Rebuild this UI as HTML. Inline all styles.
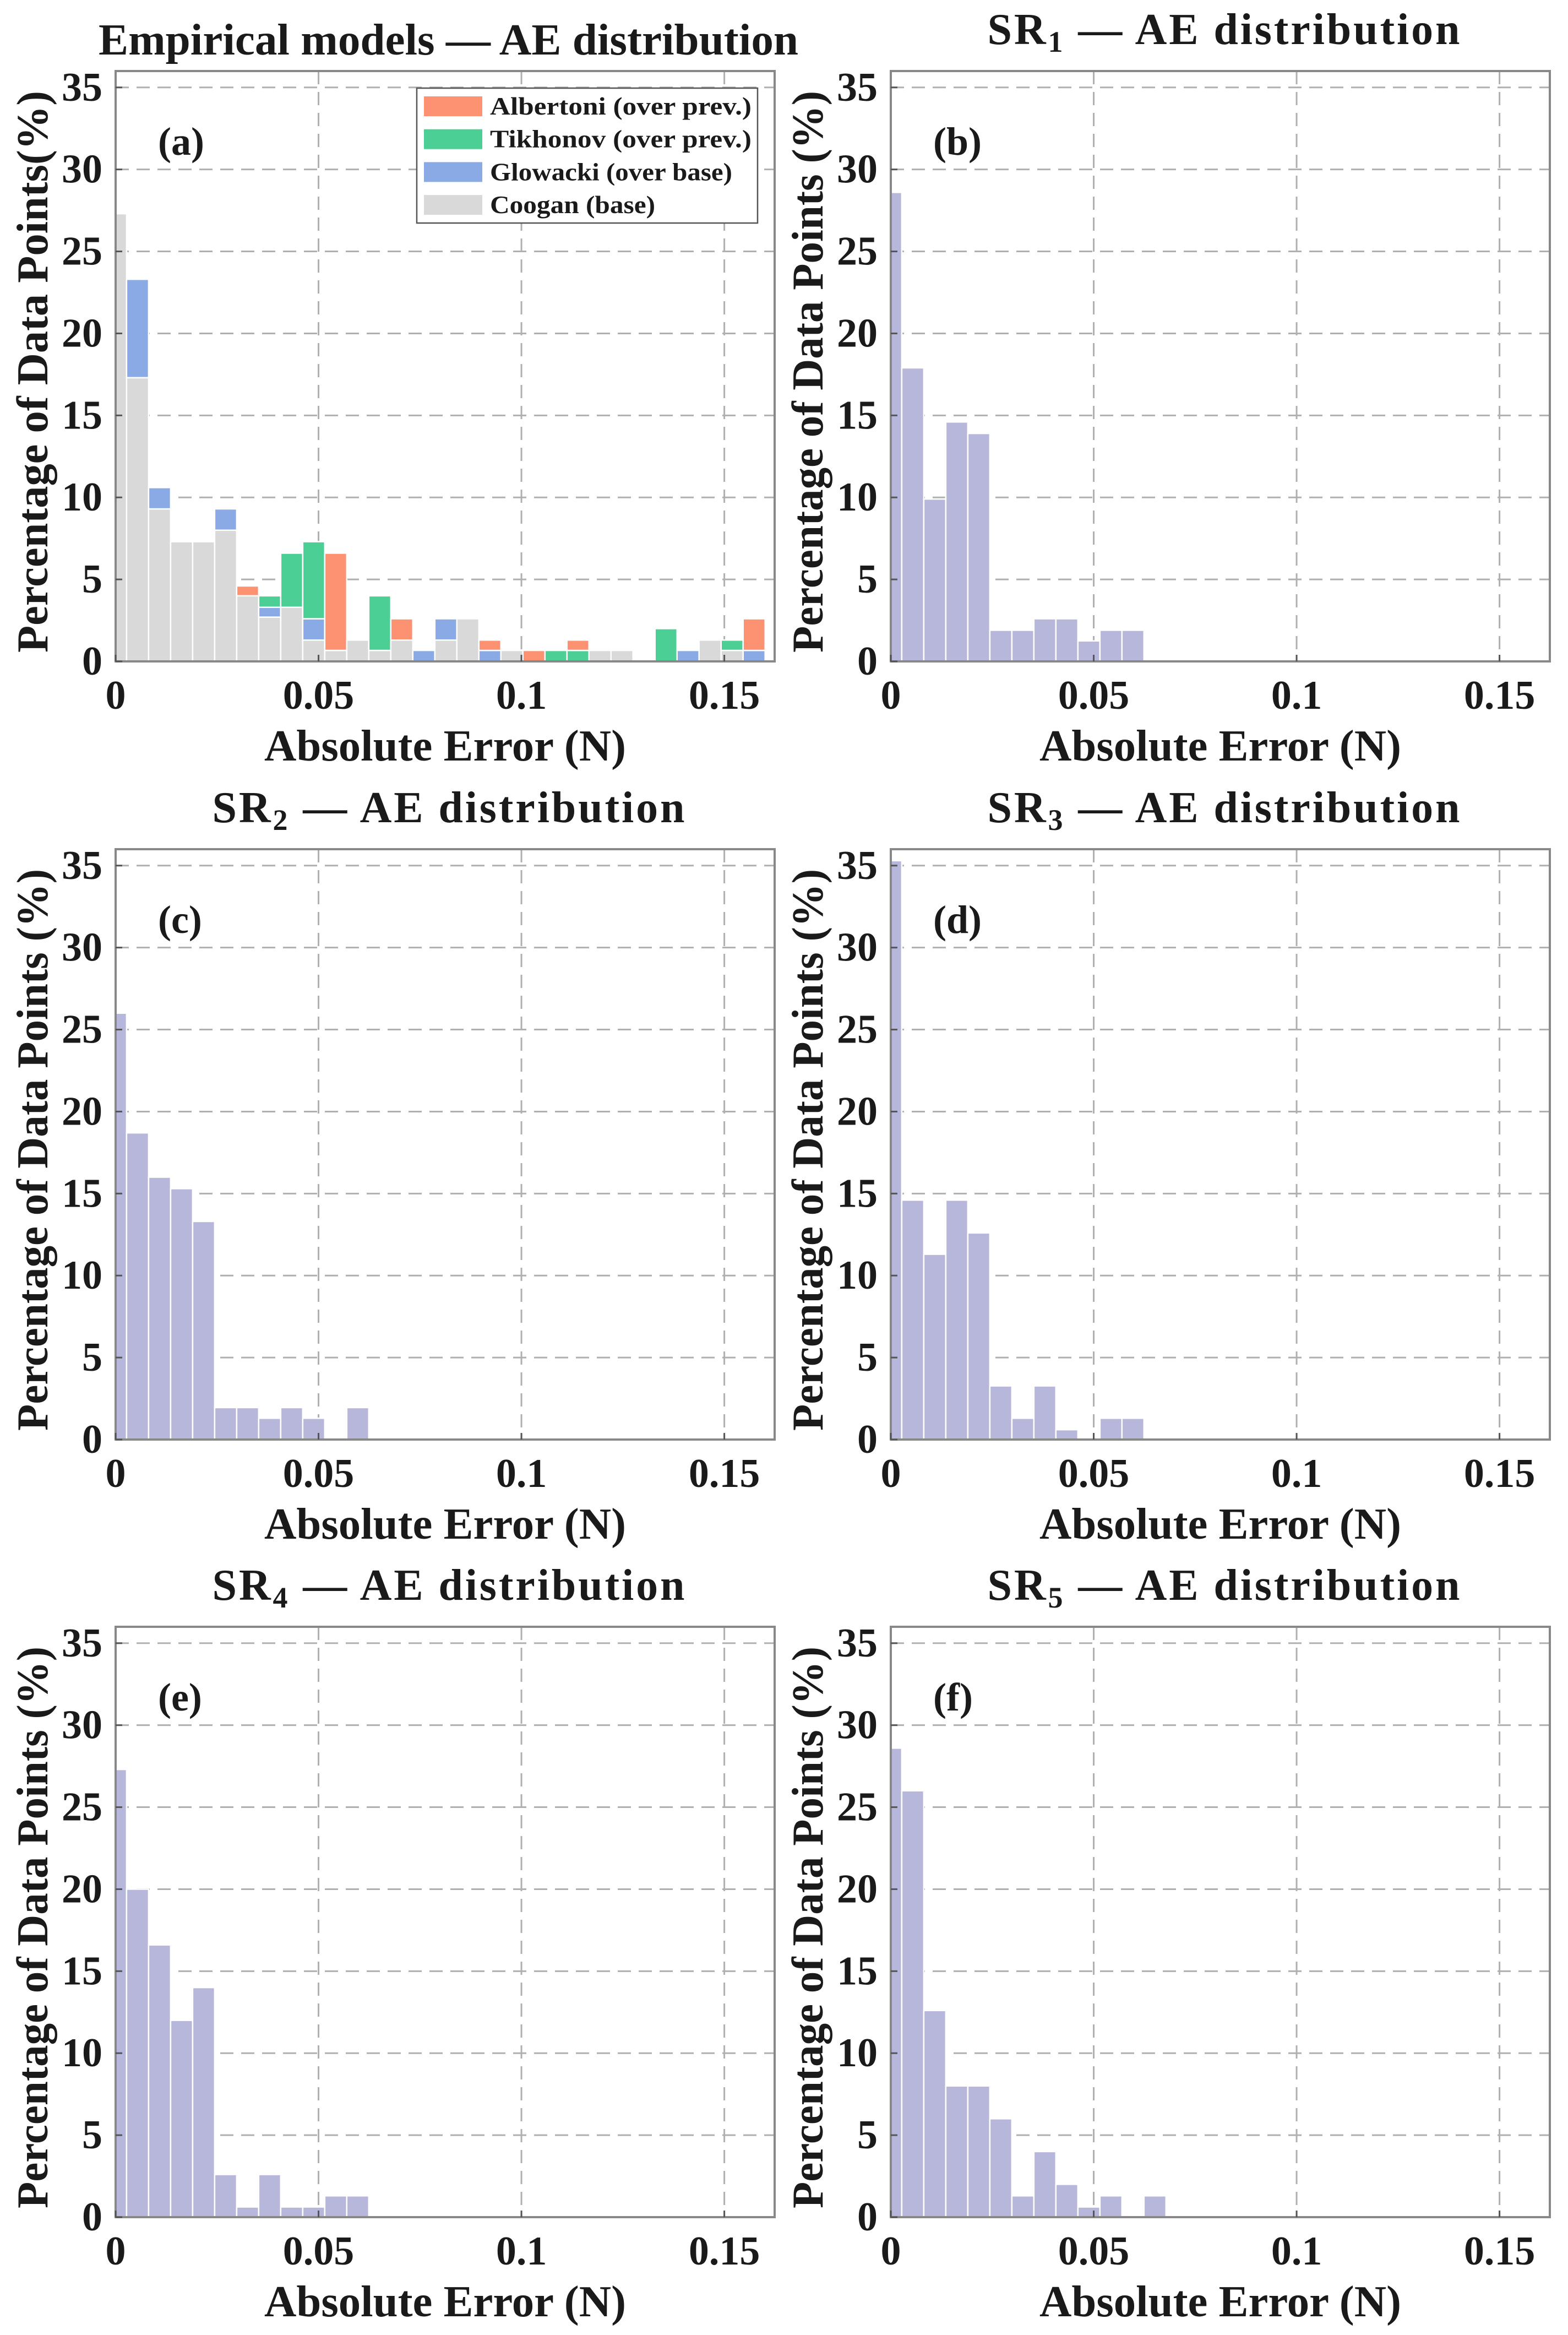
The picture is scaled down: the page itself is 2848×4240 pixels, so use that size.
<!DOCTYPE html>
<html><head><meta charset="utf-8"><style>
html,body{margin:0;padding:0;background:#fff;}
svg{display:block;font-family:"Liberation Serif","Times New Roman",serif;font-weight:bold;}
</style></head><body>
<svg id="fig" xmlns="http://www.w3.org/2000/svg" width="2848" height="4240" viewBox="0 0 2848 4240"></svg>
<script>
// ---- data ----
const binStart = 0.0027;      // first bin edge after 0
const binWidth = 0.005426;    // bin width (N)
const xTicks = [0, 0.05, 0.1, 0.15];
const xTickLabels = ["0", "0.05", "0.1", "0.15"];
const yTicks = [0, 5, 10, 15, 20, 25, 30, 35];
const yTickLabels = ["0", "5", "10", "15", "20", "25", "30", "35"];
const xMax = 0.1624, yMax = 36;

// panel (a) stacked segments (percent), per bin
const cooganBase = [27.3,17.3,9.3,7.3,7.3,8.0,4.0,2.7,3.3,1.3,0.67,1.3,0.67,1.3,0,1.3,2.6,0,0.67,0,0,0,0.67,0.67,0,0,0,1.3,0.67,0];
const glowackiAdd = [0,6.0,1.3,0,0,1.3,0,0.6,0,1.3,0,0,0,0,0.67,1.3,0,0.67,0,0,0,0,0,0,0,0,0.67,0,0,0.67];
const tikhonovAdd = [0,0,0,0,0,0,0,0.7,3.3,4.7,0,0,3.33,0,0,0,0,0,0,0,0.67,0.67,0,0,0,2.0,0,0,0.63,0];
const albertoniAdd = [0,0,0,0,0,0,0.6,0,0,0,5.93,0,0,1.3,0,0,0,0.63,0,0.67,0,0.63,0,0,0,0,0,0,0,1.93];

const sr1 = [28.6,17.9,9.9,14.6,13.9,1.9,1.9,2.6,2.6,1.25,1.9,1.9];
const sr2 = [26.0,18.7,16.0,15.3,13.3,1.95,1.95,1.3,1.95,1.3,0,1.95];
const sr3 = [35.3,14.6,11.3,14.6,12.6,3.27,1.3,3.27,0.6,0,1.3,1.3];
const sr4 = [27.3,20.0,16.6,12.0,14.0,2.6,0.62,2.6,0.62,0.62,1.3,1.3];
const sr5 = [28.6,26.0,12.6,8.0,8.0,6.0,1.3,4.0,2.0,0.62,1.3,0,1.3];

const legendLabels = ["Albertoni (over prev.)","Tikhonov (over prev.)","Glowacki (over base)","Coogan (base)"];
const legendWidths = [475,475,440,300];
const panelLetters = ["(a)","(b)","(c)","(d)","(e)","(f)"];

// ---- layout ----
const NS = "http://www.w3.org/2000/svg";
const svg = document.getElementById("fig");
const colX = [210, 1618], rowB = [1201, 2614, 4026];
const W = 1197, H = 1072;
const C = {coogan:"#d9d9d9", glow:"#8aaae5", tik:"#4ccf94", alb:"#fc9272", sr:"#b7b7db"};

function mk(tag, attrs, parent){ const e=document.createElementNS(NS,tag); for(const k in attrs) e.setAttribute(k,attrs[k]); (parent||svg).appendChild(e); return e; }
function binL(i){ return i===0?0:binStart+(i-1)*binWidth; }
function binR(i){ return binStart+i*binWidth; }

function panel(idx, col, row){
  const x0=colX[col], yb=rowB[row], yt=yb-H;
  const sx=v=>x0+v/xMax*W, sy=v=>yb-v/yMax*H;
  const g=mk("g",{});
  
  
  yTicks.forEach(t=>{ if(t===0) return;
    const l=mk("line",{x1:x0,x2:x0+W,y1:sy(t),y2:sy(t),stroke:"#b0b0b0","stroke-width":3,"stroke-dasharray":"24,14"},g);
     
  });
  xTicks.forEach(t=>{ if(t===0) return;
    const l=mk("line",{x1:sx(t),x2:sx(t),y1:yt,y2:yb,stroke:"#b0b0b0","stroke-width":3,"stroke-dasharray":"24,14"},g);
     
  });
  return {g,x0,yb,yt,sx,sy};
}
function bar(p, i, v0, v1, fill, name){
  if(v1-v0<=0) return;
  const r=mk("rect",{x:p.sx(binL(i)),y:p.sy(v1),width:p.sx(binR(i))-p.sx(binL(i)),height:p.sy(v0)-p.sy(v1),fill:fill,stroke:"#ffffff","stroke-width":2.5},p.g);
   
}
function frame(p, idx, titleParts, ylab){
  const g=p.g;
  const f=mk("rect",{x:p.x0,y:p.yt,width:W,height:H,fill:"none",stroke:"#888","stroke-width":4},g);
   
  yTicks.forEach((t,k)=>{
    mk("line",{x1:p.x0,x2:p.x0+12,y1:p.sy(t),y2:p.sy(t),stroke:"#555","stroke-width":3},g);
    const tx=mk("text",{x:p.x0-24,y:p.sy(t)+24,"text-anchor":"end","font-size":74,fill:"#1a1a1a"},g);
    tx.textContent=yTickLabels[k];
     
  });
  xTicks.forEach((t,k)=>{
    mk("line",{x1:p.sx(t),x2:p.sx(t),y1:p.yb,y2:p.yb-12,stroke:"#555","stroke-width":3},g);
    const tx=mk("text",{x:p.sx(t),y:p.yb+86,"text-anchor":"middle","font-size":74,fill:"#1a1a1a"},g);
    tx.textContent=xTickLabels[k];
     
  });
  const xl=mk("text",{x:p.x0+W/2,y:p.yb+180,"text-anchor":"middle","font-size":80,fill:"#1a1a1a",textLength:657,lengthAdjust:"spacingAndGlyphs"},g);
  xl.textContent="Absolute Error (N)";
   
  const cy=p.yt+H/2+10;
  const yl=mk("text",{x:0,y:0,transform:`translate(${p.x0-124},${cy}) rotate(-90)`,"text-anchor":"middle","font-size":80,fill:"#1a1a1a",textLength:1020,lengthAdjust:"spacingAndGlyphs"},g);
  yl.textContent=ylab;
   
  const pl=mk("text",{x:p.x0+77,y:p.yt+152,"font-size":72,fill:"#1a1a1a"},g);
  pl.textContent=panelLetters[idx];
   
  const isA=(typeof titleParts==="string");
  const tt=mk("text",{x:p.x0+W/2+6,y:p.yt-(isA?30:49),"text-anchor":"middle","font-size":80,fill:"#1a1a1a"},g);
   
  if(isA){ tt.textContent=titleParts; tt.setAttribute("textLength",1271); tt.setAttribute("lengthAdjust","spacingAndGlyphs"); }
  else {
    tt.setAttribute("textLength",858); tt.setAttribute("lengthAdjust","spacing");
    const a=mk("tspan",{},tt); a.textContent="SR";
    const b=mk("tspan",{dy:14,"font-size":54},tt); b.textContent=titleParts[0];
    const c=mk("tspan",{dy:-14},tt); c.textContent="  \u2014  AE   distribution";
  }
}

// panel (a)
const pa=panel(0,0,0);
for(let i=0;i<cooganBase.length;i++){
  const b=cooganBase[i], gl=b+glowackiAdd[i], tk=gl+tikhonovAdd[i], al=tk+albertoniAdd[i];
  bar(pa,i,0,b,C.coogan,'bar-coogan');
  bar(pa,i,b,gl,C.glow,'bar-glowacki');
  bar(pa,i,gl,tk,C.tik,'bar-tikhonov');
  bar(pa,i,tk,al,C.alb,'bar-albertoni');
}
frame(pa,0,"Empirical models \u2014 AE distribution","Percentage of Data Points(%)");
// legend
const lg=mk("g",{},pa.g);
 
mk("rect",{x:757,y:160,width:619,height:245,fill:"#fff",stroke:"#555","stroke-width":2.5},lg);
const lcol=[C.alb,C.tik,C.glow,C.coogan];
legendLabels.forEach((s,k)=>{
  const cy=193+k*59.7;
  const sw=mk("rect",{x:770,y:cy-18,width:106,height:36,fill:lcol[k]},lg);
   
  const t=mk("text",{x:890,y:cy+15,"font-size":46,fill:"#1a1a1a",textLength:legendWidths[k],lengthAdjust:"spacingAndGlyphs"},lg);
  t.textContent=s;
   
});

// SR panels
const srs=[sr1,sr2,sr3,sr4,sr5];
const pos=[[1,0],[0,1],[1,1],[0,2],[1,2]];
srs.forEach((arr,k)=>{
  const p=panel(k+1,pos[k][0],pos[k][1]);
  arr.forEach((v,i)=>bar(p,i,0,v,C.sr,'bar-sr'+(k+1)));
  frame(p,k+1,[String(k+1)],"Percentage of Data Points (%)");
});
</script>
</body></html>
